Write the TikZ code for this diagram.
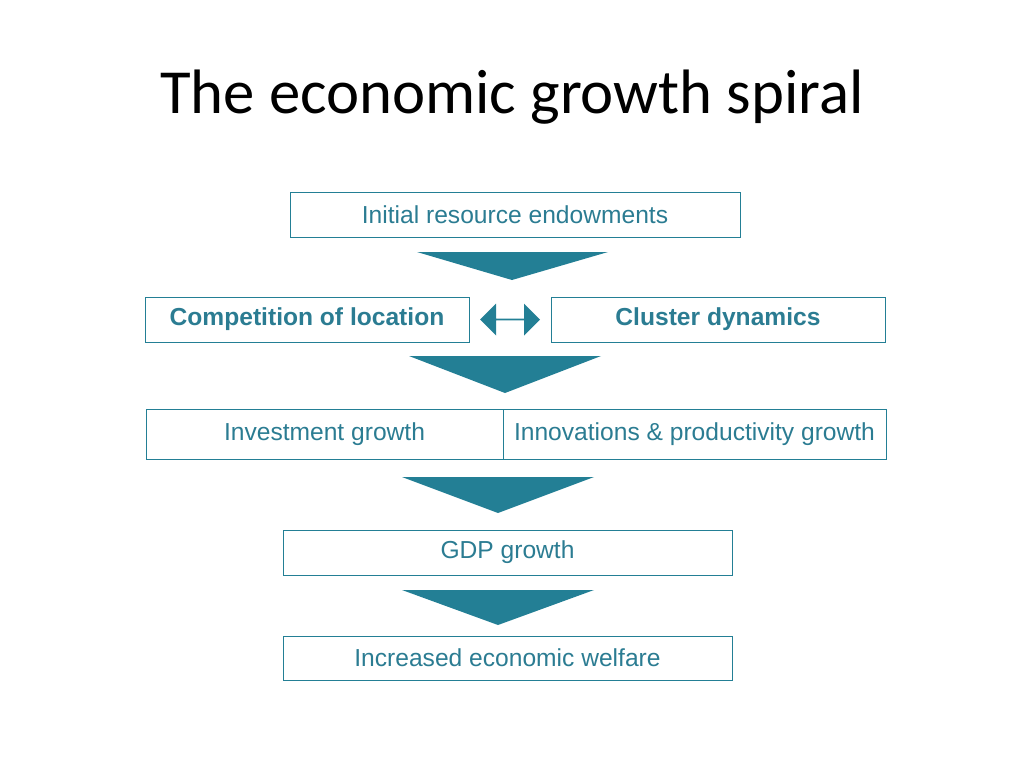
\documentclass[tikz,border=0pt]{standalone}
\usepackage{fontspec}
\setmainfont{Liberation Sans}
\newfontfamily\titlefont{Carlito}
\usetikzlibrary{shapes.arrows,calc}
\definecolor{teal1}{HTML}{237F95}
\definecolor{tealtext}{HTML}{2B7C92}
\tikzstyle{block} = [draw=teal1, rectangle, text centered, text=tealtext, font=\fontsize{14}{16}\selectfont, inner sep=0pt]
\tikzstyle{funnel} = [fill=teal1, draw=none]
\begin{document}
\begin{tikzpicture}[x=0.02cm, y=-0.02cm]
        \useasboundingbox (0,0) rectangle (1024,768);
        \node[font=\titlefont\fontsize{35.7}{42}\selectfont] (title) at (512,97) {The economic growth spiral};
        \node[block, minimum width=9cm, minimum height=0.9cm] (init) at (515,214.5) {Initial resource endowments};
        \node[block, minimum width=6.48cm, minimum height=0.9cm, font=\bfseries\fontsize{14}{16}\selectfont] (comp) at (307,319.5) {Competition of location};
        \node[block, minimum width=6.68cm, minimum height=0.9cm, font=\bfseries\fontsize{14}{16}\selectfont] (clus) at (718,319.5) {Cluster dynamics};
        \node[block, minimum width=7.14cm, minimum height=1cm] (invest) at (324.5,434) {Investment growth};
        \node[block, minimum width=7.66cm, minimum height=1cm] (innov) at (694.5,434) {Innovations \& productivity growth};
        \node[block, minimum width=8.98cm, minimum height=0.9cm] (gdp) at (507.5,552.5) {GDP growth};
        \node[block, minimum width=8.98cm, minimum height=0.88cm] (welfare) at (507.5,658) {Increased economic welfare};
        % connectors
        \node[double arrow, fill=teal1, minimum width=0.64cm, minimum height=1.2cm, double arrow head extend=0.12cm, double arrow head indent=0pt, inner sep=0pt] (both) at ($(comp.east)!0.5!(clus.west)$) {};
        \fill[funnel] (417,252) -- (608,252) -- (512,280) -- cycle;
        \fill[funnel] (409,356) -- (601,356) -- (505,393) -- cycle;
        \fill[funnel] (402,477) -- (594,477) -- (498,513) -- cycle;
        \fill[funnel] (402,590) -- (594,590) -- (498,625) -- cycle;
    \end{tikzpicture}
\end{document}
